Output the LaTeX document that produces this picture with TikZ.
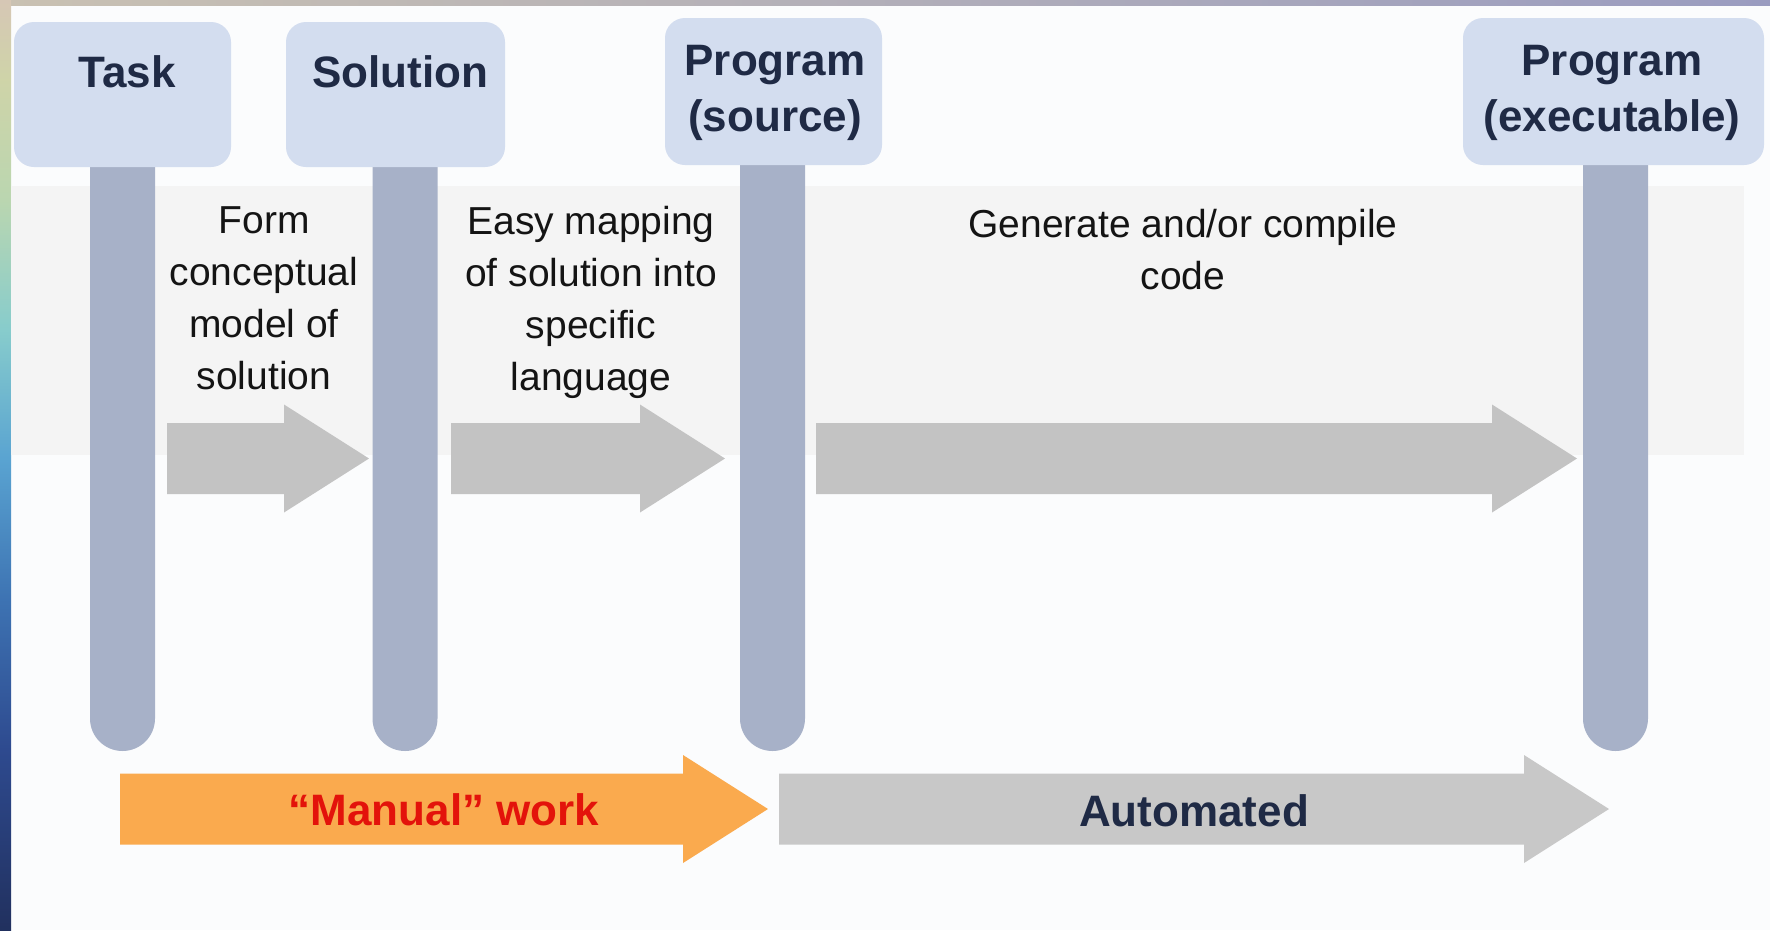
\documentclass[tikz,border=0pt]{standalone}
\usepackage{fontspec}
\setmainfont{Liberation Sans}
\usetikzlibrary{calc}
\definecolor{bgc}{HTML}{FBFCFD}
\definecolor{boxc}{HTML}{D3DDEF}
\definecolor{barc}{HTML}{A7B1C8}
\definecolor{bandc}{HTML}{F4F4F4}
\definecolor{arrc}{HTML}{C3C3C3}
\definecolor{autoc}{HTML}{C8C8C8}
\definecolor{orangec}{HTML}{FAAA4E}
\definecolor{redc}{HTML}{E3130B}
\definecolor{navyc}{HTML}{1F2A45}
\definecolor{lblc}{HTML}{141414}
\definecolor{topl}{HTML}{C9C1B2}
\definecolor{topr}{HTML}{9A9CC0}
\pgfdeclareverticalshading{leftstrip}{100bp}{%
  rgb(0bp)=(0.13,0.19,0.37); rgb(25bp)=(0.13,0.19,0.37);
  rgb(34.68bp)=(0.18,0.29,0.56); rgb(42.74bp)=(0.24,0.45,0.70);
  rgb(50.27bp)=(0.35,0.64,0.82); rgb(57.26bp)=(0.53,0.80,0.80);
  rgb(64.25bp)=(0.73,0.84,0.69); rgb(70.70bp)=(0.81,0.83,0.66);
  rgb(75bp)=(0.84,0.78,0.71); rgb(100bp)=(0.84,0.78,0.71)}
\tikzset{
  titlebox/.style={fill=boxc, draw=none, rounded corners=20pt, inner sep=0pt},
  barstyle/.style={fill=barc, draw=none, rounded corners=32.5pt, minimum width=65pt, minimum height=631pt, inner sep=0pt},
  titletext/.style={font=\fontsize{44}{56}\selectfont\bfseries, text=navyc, inner sep=0pt, align=center},
  steptext/.style={font=\fontsize{39}{52}\selectfont, text=lblc, inner sep=0pt, align=center, anchor=north},
  bandtext/.style={font=\fontsize{44}{56}\selectfont\bfseries, inner sep=0pt, anchor=base},
}
% block arrow: #1 style, #2 start, #3 tip
\newcommand\blockarrow[3]{%
  \fill[#1] let \p1=(#2), \p2=(#3) in
    (\x1,\y1+35.5pt) -- (\x2-85pt,\y1+35.5pt) -- (\x2-85pt,\y1+54pt) -- (\x2,\y1)
    -- (\x2-85pt,\y1-54pt) -- (\x2-85pt,\y1-35.5pt) -- (\x1,\y1-35.5pt) -- cycle;}
\begin{document}
\begin{tikzpicture}[x=1pt,y=-1pt]
\useasboundingbox (0,0) rectangle (1770,930);
% slide background
\fill[bgc] (0,0) rectangle (1770,930);
\shade[left color=topl, right color=topr] (0,0) rectangle (1770,5);
\shade[shading=leftstrip] (0,0) rectangle (11,930);
% light band
\fill[bandc] (11,186) rectangle (1744,455);
% lifelines
\node[barstyle] (taskbar) at (122.5,435.5) {};
\node[barstyle] (solbar) at (405,435.5) {};
\node[barstyle] (srcbar) at (772.5,435.5) {};
\node[barstyle] (exebar) at (1615.5,435.5) {};
% title boxes
\node[titlebox, minimum width=217pt, minimum height=145pt] (task) at (122.5,94.5) {};
\node[titlebox, minimum width=219pt, minimum height=145pt] (sol) at (395.5,94.5) {};
\node[titlebox, minimum width=217pt, minimum height=147pt] (src) at (773.5,91.5) {};
\node[titlebox, minimum width=301pt, minimum height=147pt] (exe) at (1613.5,91.5) {};
\node[titletext, anchor=base] (tasktxt) at (127,87) {Task};
\node[titletext, anchor=base] (soltxt) at (400,87) {Solution};
\node[titletext, anchor=north] (srctxt) at (775,45.5) {Program\\(source)};
\node[titletext, anchor=north] (exetxt) at (1612,45.5) {Program\\(executable)};
% step arrows
\coordinate (a1s) at (167,458.5);  \coordinate (a1t) at (369,458.5);
\coordinate (a2s) at (451,458.5);  \coordinate (a2t) at (725,458.5);
\coordinate (a3s) at (816,458.5);  \coordinate (a3t) at (1577,458.5);
\blockarrow{arrc}{a1s}{a1t}
\blockarrow{arrc}{a2s}{a2t}
\blockarrow{arrc}{a3s}{a3t}
\node[steptext] (lbl1) at (264,206) {Form\\conceptual\\model of\\solution};
\node[steptext] (lbl2) at (591,206) {Easy mapping\\of solution into\\specific\\language};
\node[steptext] (lbl3) at (1183,209) {Generate and/or compile\\code};
% bottom arrows
\coordinate (ms) at (120,809);  \coordinate (mt) at (768,809);
\coordinate (as) at (779,809);  \coordinate (at) at (1609,809);
\blockarrow{orangec}{ms}{mt}
\blockarrow{autoc}{as}{at}
\node[bandtext, text=redc] (mantxt) at (444,825) {“Manual” work};
\node[bandtext, text=navyc] (autotxt) at (1194,826) {Automated};
\end{tikzpicture}
\end{document}
